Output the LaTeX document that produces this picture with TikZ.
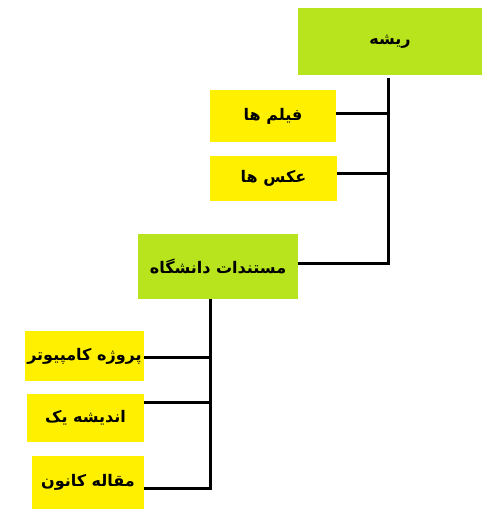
\documentclass[tikz,border=0pt]{standalone}
\usepackage{fontspec}
\newfontfamily\arabicfont[Script=Arabic]{DejaVu Sans}
\TeXXeTstate=1
\tikzset{
  leaf/.style={fill=leafColor,inner sep=0pt,outer sep=0pt,font=\arabicfont\bfseries\fontsize{16}{19}\selectfont},
  folder/.style={fill=folderColor,inner sep=0pt,outer sep=0pt,font=\arabicfont\bfseries\fontsize{16}{19}\selectfont},
  link/.style={draw=black,line width=3pt}
}
\begin{document}
\begin{tikzpicture}[x=1pt,y=1pt]
\definecolor{folderColor}{RGB}{184,228,30}
\definecolor{leafColor}{RGB}{255,240,0}
\path[use as bounding box,fill=white] (0,0) rectangle (500,529);

\node[folder,minimum width=184pt,minimum height=67pt] (root) at (390,487.5) {\beginR ریشه\endR};

\node[leaf,minimum width=126pt,minimum height=52pt] (films) at (273,413) {\beginR فیلم ها\endR};

\node[leaf,minimum width=127pt,minimum height=45pt] (photos) at (273.5,350.5) {\beginR عکس ها\endR};

\node[folder,minimum width=160pt,minimum height=65pt] (docs) at (218,262.5) {\beginR مستندات دانشگاه\endR};

\node[leaf,minimum width=119pt,minimum height=50pt] (project) at (84.5,173) {\beginR پروژه کامپیوتر\endR};

\node[leaf,minimum width=117pt,minimum height=48pt] (idea) at (85.5,111) {\beginR اندیشه یک\endR};

\node[leaf,minimum width=112pt,minimum height=53pt] (article) at (88,46.5) {\beginR مقاله کانون\endR};

% root branch
\coordinate (rootbus) at ([xshift=-2pt,yshift=-3pt]root.south);
\draw[link] (rootbus) -- ([yshift=2.5pt]rootbus |- docs.east) -- ([yshift=2.5pt]docs.east);
\draw[link] ([yshift=2pt]films.east) -- ([xshift=2pt,yshift=2pt]films.east -| rootbus);
\draw[link] ([yshift=4.5pt]photos.east) -- ([xshift=2pt,yshift=4.5pt]photos.east -| rootbus);

% docs branch
\coordinate (docsbus) at ([xshift=-8pt]docs.south);
\draw[link] (docsbus) -- ([yshift=-6.5pt]docsbus |- article.east) -- ([yshift=-6.5pt]article.east);
\draw[link] ([yshift=-2pt]project.east) -- ([xshift=2pt,yshift=-2pt]project.east -| docsbus);
\draw[link] ([yshift=15pt]idea.east) -- ([xshift=2pt,yshift=15pt]idea.east -| docsbus);
\end{tikzpicture}
\end{document}
